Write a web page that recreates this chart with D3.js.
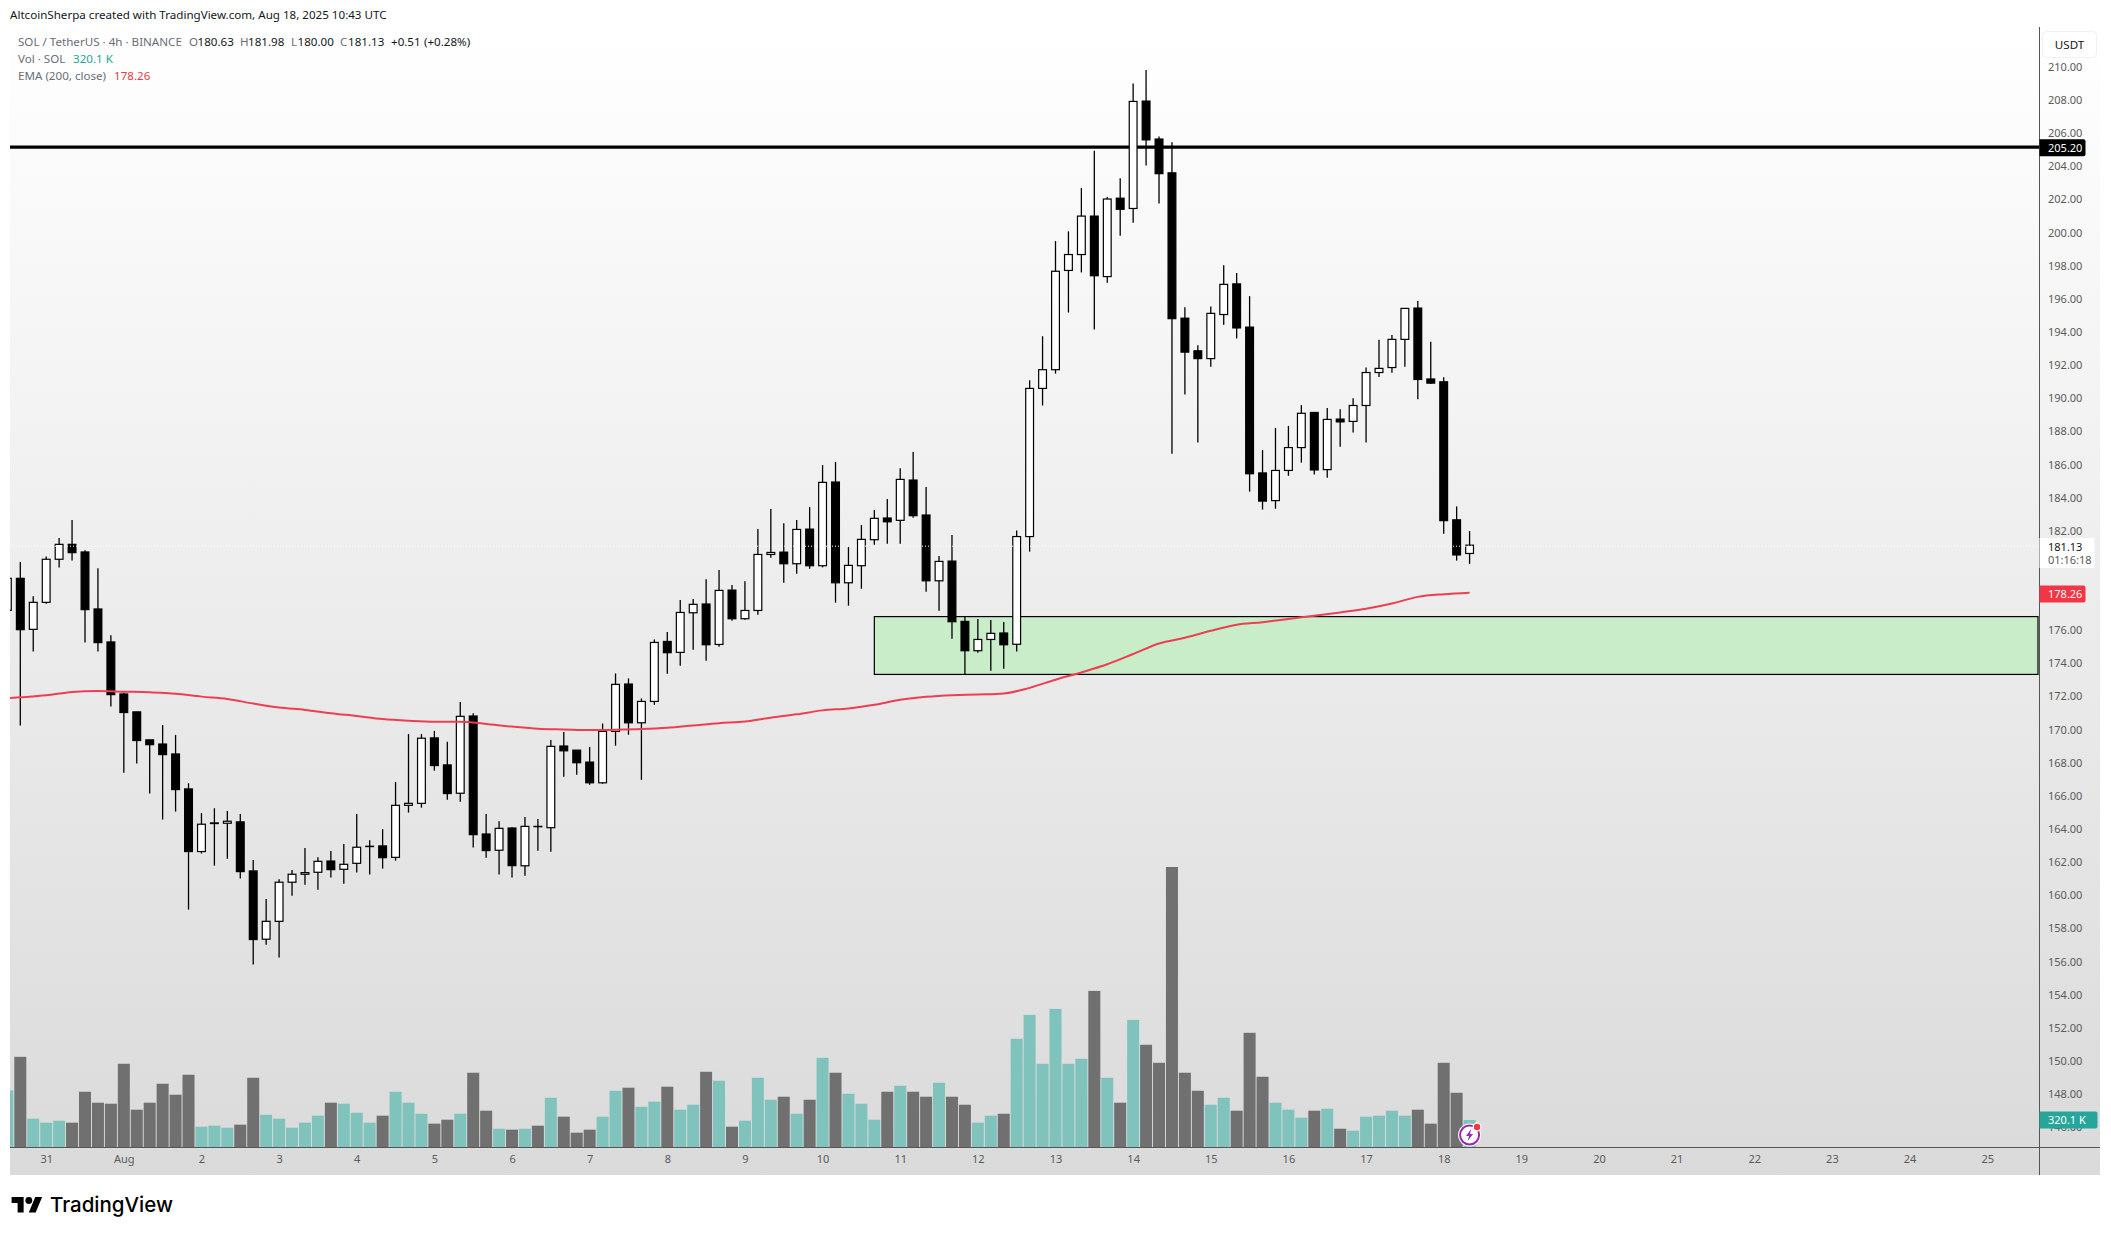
<!DOCTYPE html>
<html>
<head>
<meta charset="utf-8">
<title>SOL / TetherUS 4h</title>
<script src="https://cdn.jsdelivr.net/npm/d3@7/dist/d3.min.js"></script>
<style>
  html, body { margin: 0; padding: 0; background: #fff; }
  svg { display: block; }
  text { font-family: "Noto Sans", sans-serif; }
</style>
</head>
<body>
<svg id="chart" width="2111" height="1235"></svg>
<script>
// 4h candles, first one is 30 Jul 12:00 UTC (cut off by the left edge of the pane)
var candleOpen = [177.20,
  179.13,176.05,177.68,180.28,181.18,180.72,177.28,175.29,172.15,171.07,169.38,169.13,168.53,166.42,162.64,164.33,164.35,164.43,161.47,157.35,
  158.43,160.79,161.27,161.39,162.07,161.57,161.93,162.94,162.98,162.29,165.43,165.55,169.50,167.87,166.16,170.82,163.70,162.72,164.06,161.78,
  164.16,164.08,169.01,168.76,168.04,166.79,169.89,172.75,170.41,171.70,175.32,174.66,177.05,177.58,175.14,178.42,176.69,177.19,180.57,180.71,
  180.01,182.10,179.89,184.94,178.86,179.89,181.46,182.77,182.63,185.06,182.95,178.98,180.17,176.53,174.76,175.44,175.83,175.15,181.65,190.59,
  191.72,197.71,198.67,200.99,197.34,202.07,201.45,207.93,205.64,203.60,194.83,192.86,192.39,195.05,196.90,194.29,185.49,183.82,185.64,187.02,
  189.14,185.69,188.74,188.60,189.56,191.55,191.85,193.55,195.44,191.16,190.99,182.66,180.63];
var candleHigh = [179.60,
  180.12,178.05,180.44,181.57,182.65,180.82,179.74,175.69,172.23,171.07,169.38,170.28,169.68,166.76,164.97,165.25,165.09,164.91,162.13,159.78,
  160.97,161.53,162.86,162.29,162.68,163.10,164.91,163.32,164.00,166.84,169.74,169.74,169.92,169.26,171.67,170.99,164.91,164.47,164.10,164.72,
  164.60,169.37,169.85,168.76,168.95,170.37,173.39,173.09,171.88,175.44,175.89,177.82,177.88,179.08,179.63,178.72,178.96,182.10,183.31,182.46,
  182.65,183.43,185.96,186.15,181.02,182.34,183.25,183.91,185.78,186.75,184.64,180.47,181.74,176.83,176.67,176.61,176.49,182.02,191.08,193.74,
  199.48,200.07,202.69,204.93,202.14,203.28,208.99,209.80,205.79,205.44,195.49,193.20,195.54,198.03,197.56,196.16,186.87,188.20,188.33,189.58,
  189.16,189.41,189.34,190.00,191.85,193.52,193.82,195.42,195.86,193.40,191.26,183.47,181.98];
var candleLow = [176.40,
  170.24,174.71,177.60,179.78,180.20,175.25,174.71,171.39,167.40,167.95,166.14,164.57,165.05,159.14,162.52,161.79,162.21,161.01,155.82,157.02,
  156.24,159.98,160.64,160.34,161.07,160.70,161.37,161.25,161.61,162.09,164.99,165.29,167.52,165.77,165.65,162.88,162.27,161.25,161.07,161.18,
  162.69,162.63,167.16,167.28,166.67,166.73,169.03,169.69,166.97,171.50,173.37,173.85,174.82,174.16,175.00,176.57,176.63,176.93,180.37,178.86,
  179.41,179.71,179.79,177.66,177.48,178.50,181.16,181.22,181.22,182.79,178.32,177.17,175.48,173.33,174.64,173.55,173.67,174.71,180.74,189.56,
  191.48,195.17,197.59,194.14,196.97,199.80,200.59,204.04,201.75,186.65,190.22,187.32,191.90,194.43,193.60,184.36,183.28,183.33,185.32,186.11,
  185.39,185.20,187.07,187.93,187.32,191.28,191.53,191.90,189.93,190.86,181.82,180.20,180.00];
var candleClose = [179.13,
  176.03,177.68,180.28,181.18,180.68,177.24,175.25,172.11,171.03,169.34,169.09,168.49,166.38,162.64,164.29,164.37,164.47,161.43,157.33,158.43,
  160.79,161.27,161.37,162.05,161.55,161.87,162.90,162.96,162.27,165.43,165.55,169.48,167.83,166.14,170.80,163.66,162.70,164.04,161.79,164.16,
  164.14,168.99,168.72,168.00,166.79,169.89,172.73,170.41,171.70,175.26,174.64,177.07,177.56,175.12,178.40,176.69,177.19,180.57,180.69,180.01,
  182.08,179.89,184.92,178.86,179.91,181.48,182.75,182.54,185.10,182.91,178.98,180.15,176.51,174.76,175.44,175.81,175.12,181.65,190.59,191.72,
  197.66,198.67,200.99,197.39,202.02,201.40,207.91,205.59,203.55,194.80,192.78,192.39,195.12,196.87,194.24,185.44,183.79,185.64,187.02,189.09,
  185.67,188.72,188.57,189.56,191.55,191.80,193.55,195.42,191.13,190.91,182.61,180.54,181.13];
// volume in thousands of SOL
var volumes = [672,
  1071,336,289,312,289,656,526,514,988,443,526,751,621,858,241,253,229,265,822,383,
  336,229,289,372,526,514,407,289,372,656,526,395,277,324,395,882,431,217,206,217,
  253,585,360,170,206,360,668,704,478,538,716,443,502,893,787,241,312,822,561,597,
  395,561,1059,882,632,514,324,656,727,656,597,763,597,502,289,372,395,1285,1569,988,
  1640,988,1048,1854,822,526,1510,1214,1000,3325,882,668,502,585,431,1356,834,526,443,348,
  431,455,217,194,360,372,431,372,443,277,1000,644,320.1];
// EMA 200 read every second candle, first value is two candles before the first full one
var emaValues = [171.85,171.95,172.07,172.27,172.33,172.29,172.25,172.17,171.99,171.85,171.57,171.33,171.19,170.99,170.82,170.64,
  170.54,170.48,170.48,170.34,170.18,170.05,170.01,169.97,169.99,170.03,170.11,170.25,170.39,170.49,170.72,170.92,171.16,171.28,
  171.50,171.80,171.98,172.08,172.12,172.18,172.52,173.01,173.45,173.94,174.56,175.20,175.54,175.96,176.33,176.48,176.68,176.87,
  177.07,177.29,177.61,178.01,178.17,178.26];
var priceTicks = d3.range(146, 211, 2);
var dayLabels = ["31","Aug","2","3","4","5","6","7","8","9","10","11","12","13","14","15","16","17","18","19","20","21","22","23","24","25"];
var resistanceLevel = 205.20;
var zoneTop = 176.82, zoneBottom = 173.33;

var hour = 3600000;
var firstTime = Date.UTC(2025, 6, 30, 12);
var day0 = Date.UTC(2025, 6, 31);
var dayTicks = dayLabels.map(function(d, i) { return new Date(day0 + i * 24 * hour); });
function timeAt(i) { return new Date(firstTime + i * 4 * hour); }

var pane = { left: 10, right: 2100, top: 27, bottom: 1175 };
var axisX = 2039, axisY = 1147;

var x = d3.scaleUtc()
  .domain([timeAt(1), timeAt(161)])
  .range([20.3, 20.3 + 160 * 12.94]);
var y = d3.scaleLinear().domain([210, 146]).range([66.8, 66.8 + 64 * 16.57]);
var yVol = d3.scaleLinear().domain([0, 3325]).range([axisY, axisY - 280]);

var svg = d3.select("#chart");
var defs = svg.append("defs");

var grad = defs.append("linearGradient").attr("id", "paneBg")
  .attr("x1", 0).attr("y1", 0).attr("x2", 0).attr("y2", 1);
grad.append("stop").attr("offset", "0%").attr("stop-color", "#ffffff");
grad.append("stop").attr("offset", "100%").attr("stop-color", "#dadada");

defs.append("clipPath").attr("id", "plotClip").append("rect")
  .attr("x", pane.left).attr("y", pane.top)
  .attr("width", axisX - pane.left).attr("height", axisY - pane.top);

// background
svg.append("rect")
  .attr("x", pane.left).attr("y", pane.top)
  .attr("width", pane.right - pane.left).attr("height", pane.bottom - pane.top)
  .attr("fill", "url(#paneBg)");

// header
svg.append("text").attr("x", 10).attr("y", 19)
  .attr("font-size", 11.6).attr("fill", "#131722")
  .text("AltcoinSherpa created with TradingView.com, Aug 18, 2025 10:43 UTC");

var plot = svg.append("g").attr("clip-path", "url(#plotClip)");

// volume
var candles = volumes.map(function(v, i) {
  return { t: timeAt(i), o: candleOpen[i], h: candleHigh[i], l: candleLow[i], c: candleClose[i], v: v };
});

plot.append("g").selectAll("rect")
  .data(candles).enter().append("rect")
  .attr("x", function(d) { return x(d.t) - 6; })
  .attr("width", 12)
  .attr("y", function(d) { return yVol(d.v); })
  .attr("height", function(d) { return axisY - yVol(d.v); })
  .attr("fill", function(d) { return d.c >= d.o ? "#80c3bc" : "#707070"; });

// resistance line and green zone
plot.append("line")
  .attr("x1", pane.left).attr("x2", axisX)
  .attr("y1", y(resistanceLevel) + .7).attr("y2", y(resistanceLevel) + .7)
  .attr("stroke", "#000").attr("stroke-width", 3.2);

plot.append("rect")
  .attr("x", x(timeAt(67)))
  .attr("y", y(zoneTop))
  .attr("width", axisX - 1 - x(timeAt(67)))
  .attr("height", y(zoneBottom) - y(zoneTop))
  .attr("fill", "#c9ecc9").attr("stroke", "#000").attr("stroke-width", 1.2);

// candles
plot.append("g").selectAll("line")
  .data(candles).enter().append("line")
  .attr("x1", function(d) { return x(d.t); })
  .attr("x2", function(d) { return x(d.t); })
  .attr("y1", function(d) { return y(d.h); })
  .attr("y2", function(d) { return y(d.l); })
  .attr("stroke", "#000").attr("stroke-width", 1.3);

plot.append("g").selectAll("rect")
  .data(candles).enter().append("rect")
  .attr("x", function(d) { return x(d.t) - 3.9; })
  .attr("width", 7.8)
  .attr("y", function(d) { return y(Math.max(d.o, d.c)); })
  .attr("height", function(d) { return Math.abs(y(d.o) - y(d.c)); })
  .attr("fill", function(d) { return d.c >= d.o ? "#fff" : "#000"; })
  .attr("stroke", "#000").attr("stroke-width", 1.2);

// last price dotted line
plot.append("line")
  .attr("x1", pane.left).attr("x2", axisX)
  .attr("y1", y(181.13) + 1).attr("y2", y(181.13) + 1)
  .attr("stroke", "#fff").attr("stroke-width", 1).attr("stroke-dasharray", "1 2");

// EMA, value k belongs to candle 2k-2, which is timeAt(2k-1)
var emaLine = d3.line()
  .x(function(d, i) { return x(timeAt(i * 2 - 1)); })
  .y(function(d) { return y(d); })
  .curve(d3.curveMonotoneX);

plot.append("path")
  .datum(emaValues)
  .attr("d", emaLine)
  .attr("fill", "none")
  .attr("stroke", "#ee3f52").attr("stroke-width", 2);

// price axis
var yAxis = svg.append("g")
  .attr("transform", "translate(" + axisX + ",0)")
  .call(d3.axisRight(y).tickValues(priceTicks).tickSize(0).tickPadding(9)
    .tickFormat(function(d) { return d.toFixed(2); }));
yAxis.select(".domain").remove();
yAxis.selectAll("text").attr("font-size", 11).attr("fill", "#5a5a5a").style("font-family", '"Noto Sans", sans-serif');

// time axis
var xAxis = svg.append("g")
  .attr("transform", "translate(0," + axisY + ")")
  .call(d3.axisBottom(x).tickValues(dayTicks).tickSize(0).tickPadding(8)
    .tickFormat(function(d, i) { return dayLabels[i]; }));
xAxis.select(".domain").remove();
xAxis.selectAll("text").attr("font-size", 11).attr("fill", "#5a5a5a").style("font-family", '"Noto Sans", sans-serif');

svg.append("line").attr("x1", axisX + .5).attr("x2", axisX + .5)
  .attr("y1", pane.top).attr("y2", pane.bottom).attr("stroke", "#555");
svg.append("line").attr("x1", pane.left).attr("x2", pane.right)
  .attr("y1", axisY + .5).attr("y2", axisY + .5).attr("stroke", "#555");

// USDT button
svg.append("rect").attr("x", 2042.5).attr("y", 31.5).attr("width", 54).attr("height", 26).attr("rx", 4)
  .attr("fill", "#fff").attr("stroke", "#f0f0f3");
svg.append("text").attr("x", 2069.5).attr("y", 49).attr("text-anchor", "middle")
  .attr("font-size", 11.6).attr("fill", "#131722").text("USDT");

// price labels on the axis
function priceLabel(val, txt, fill, textFill, w) {
  svg.append("path")
    .attr("d", "M" + (axisX + .5) + "," + (val - 8.5) + "h" + (w - 2) + "q2,0 2,2v13q0,2 -2,2h-" + (w - 2) + "z")
    .attr("fill", fill);
  svg.append("text").attr("x", axisX + 9).attr("y", val + 4)
    .attr("font-size", 11).attr("fill", textFill).text(txt);
}
priceLabel(y(resistanceLevel) + 1.5, "205.20", "#000", "#fff", 46);
priceLabel(y(178.26) + 1.2, "178.26", "#f23645", "#fff", 46);
priceLabel(yVol(320.1), "320.1 K", "#26a69a", "#fff", 58);

svg.append("rect").attr("x", axisX + .5).attr("y", 538).attr("width", 55).attr("height", 30).attr("fill", "#fff");
svg.append("text").attr("x", axisX + 9).attr("y", 551).attr("font-size", 11).attr("fill", "#131722").text("181.13");
svg.append("text").attr("x", axisX + 9).attr("y", 564).attr("font-size", 11).attr("fill", "#5a5a5a").text("01:16:18");

// legend
var grey = "#6a6d78", ink = "#131722";
function legend(xx, yy, txt, col) {
  svg.append("text").attr("x", xx).attr("y", yy).attr("font-size", 11.6).attr("fill", col).text(txt);
}
legend(18, 46, "SOL / TetherUS · 4h · BINANCE", grey);
legend(189, 46, "O", grey); legend(197.5, 46, "180.63", ink);
legend(240, 46, "H", grey); legend(248, 46, "181.98", ink);
legend(291, 46, "L", grey); legend(297.5, 46, "180.00", ink);
legend(340, 46, "C", grey); legend(348, 46, "181.13", ink);
legend(391, 46, "+0.51", ink); legend(424, 46, "(+0.28%)", ink);
legend(18, 63, "Vol · SOL", grey); legend(73, 63, "320.1 K", "#26a69a");
legend(18, 80, "EMA (200, close)", grey); legend(114, 80, "178.26", "#f23645");

// lightning icon on the last bar
var icon = svg.append("g").attr("transform", "translate(" + x(candles[candles.length - 1].t) + ",1135)");
icon.append("circle").attr("r", 11.5).attr("fill", "#fff");
icon.append("circle").attr("r", 9.5).attr("fill", "#fff").attr("stroke", "#9c27b0").attr("stroke-width", 2);
icon.append("path").attr("d", "M1.5,-6 L-3.5,1 H-0.5 L-2,6 L3.5,-1 H0.5 Z").attr("fill", "#9c27b0");
icon.append("circle").attr("cx", 7.5).attr("cy", -8).attr("r", 4.5).attr("fill", "#fff");
icon.append("circle").attr("cx", 7.5).attr("cy", -8).attr("r", 3.2).attr("fill", "#f23645");

// TradingView logo
var logo = svg.append("g").attr("transform", "translate(11.6,1193.6) scale(.86)");
logo.append("path").attr("d", "M14 22H7V11H0V4h14v18zM28 22h-8l7.5-18h8L28 22z").attr("fill", "#000");
logo.append("circle").attr("cx", 20).attr("cy", 8).attr("r", 4).attr("fill", "#000");
svg.append("text").attr("x", 50).attr("y", 1212).attr("font-size", 20.5).attr("font-weight", 500)
  .style("font-family", "Inter, sans-serif").attr("fill", "#000").text("TradingView");
</script>
</body>
</html>
